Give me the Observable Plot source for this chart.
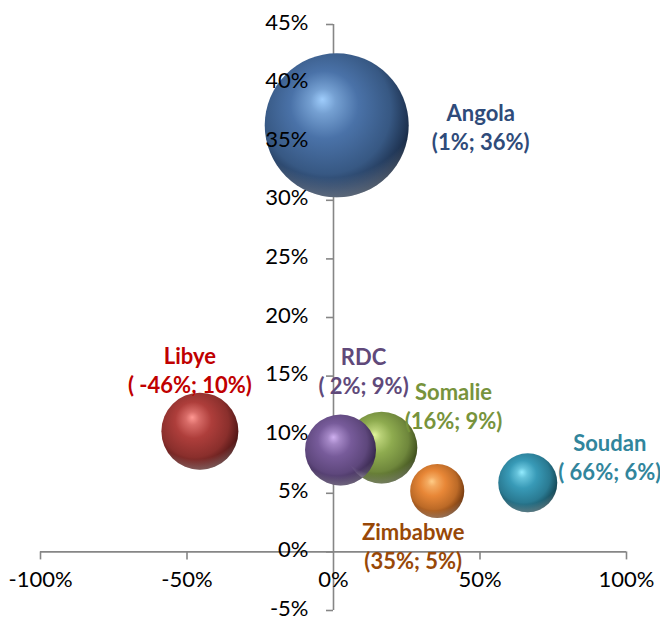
<!DOCTYPE html>
<html>
<head>
<meta charset="utf-8">
<script src="https://cdn.jsdelivr.net/npm/d3@7"></script>
<script src="https://cdn.jsdelivr.net/npm/@observablehq/plot@0.6"></script>
<style>
  html, body { margin: 0; padding: 0; background: #ffffff; }
  #chart svg { display: block; }
</style>
</head>
<body>
<div id="chart"></div>
<script>
// Countries, their growth (x, %) and share (y, %), and bubble size
const countries = ["Angola", "Libye", "RDC", "Somalie", "Zimbabwe", "Soudan"];
const growth = [1.1, -45.6, 2.4, 16.4, 35.4, 66.3];
const share = [36.4, 10.3, 8.7, 8.9, 5.2, 5.9];
const bubbleSize = [100, 28.6, 24.3, 24.7, 14.1, 16.8];
const pointLabels = ["(1%; 36%)", "( -46%; 10%)", "( 2%; 9%)", "(16%; 9%)", "(35%; 5%)", "( 66%; 6%)"];

// Axis ticks
const xTicks = [-100, -50, 0, 50, 100];
const yTicks = [-5, 0, 5, 10, 15, 20, 25, 30, 35, 40, 45];

// Sphere shading per country: highlight, body, shadow; and label colour
const palette = {
  Angola:   {light: "#9fcdfc", base: "#4a72a8", dark: "#0c1a2e", text: "#2f4b7a"},
  Libye:    {light: "#ff9893", base: "#ae3e3b", dark: "#360b0a", text: "#c00000"},
  RDC:      {light: "#cfb0f0", base: "#775b9a", dark: "#241836", text: "#60497a"},
  Somalie:  {light: "#e2f59c", base: "#8eab4f", dark: "#28340e", text: "#77933c"},
  Zimbabwe: {light: "#ffcd88", base: "#e88737", dark: "#552503", text: "#984807"},
  Soudan:   {light: "#94ecff", base: "#389ab7", dark: "#0a303b", text: "#31859c"}
};

// Label placement relative to each bubble centre (pixels)
const labelOffset = {
  Angola:   {dx: 144, dy: 1},
  Libye:    {dx: -10, dy: -62},
  RDC:      {dx: 23, dy: -80},
  Somalie:  {dx: 72, dy: -42},
  Zimbabwe: {dx: -24, dy: 54},
  Soudan:   {dx: 82, dy: -27}
};

const data = countries.map((name, i) => ({
  name, x: growth[i], y: share[i], size: bubbleSize[i], label: pointLabels[i]
}));

const pct = d => `${d}%`;
const axisColor = "#868686";
const font = "Lato, 'Open Sans', sans-serif";

const plot = Plot.plot({
  width: 660,
  height: 619,
  marginLeft: 40,
  marginRight: 34,
  marginTop: 24,
  marginBottom: 9,
  x: {domain: [-100, 100], axis: null},
  y: {domain: [-5, 45], axis: null},
  r: {domain: [0, 100], range: [0, 72]},
  style: {fontFamily: font, background: "#ffffff", overflow: "visible"},
  marks: [
    // horizontal axis through y = 0
    Plot.ruleY([0], {stroke: axisColor, strokeWidth: 1.6}),
    Plot.ruleX(xTicks.filter(d => d !== 0), {x: d => d, y1: 0, y2: 0, insetBottom: -8, stroke: axisColor, strokeWidth: 1.6}),
    // vertical axis through x = 0
    Plot.ruleX([0], {stroke: axisColor, strokeWidth: 1.6}),
    Plot.ruleY(yTicks, {y: d => d, x1: 0, x2: 0, insetLeft: -7, stroke: axisColor, strokeWidth: 1.6}),
    // bubbles
    Plot.dot(data, {x: "x", y: "y", r: "size", fill: d => `url(#ball-${d.name})`, stroke: "none"}),
    Plot.dot(data, {x: "x", y: "y", r: "size", fill: "url(#ball-rim)", stroke: "none"}),
    // tick labels sit above the bubbles
    Plot.text(xTicks, {x: d => d, frameAnchor: "bottom", dy: -24, text: pct, fontSize: 22, fill: "#000"}),
    Plot.text(yTicks, {x: 0, y: d => d, dx: -25, dy: -2, textAnchor: "end", text: pct, fontSize: 22, fill: "#000"}),
    // labels
    ...data.map(d => Plot.text([d], {
      x: "x", y: "y",
      text: v => `${v.name}\n${v.label}`,
      dx: labelOffset[d.name].dx, dy: labelOffset[d.name].dy,
      lineHeight: 1.32,
      fontSize: 22, fontWeight: "bold",
      fill: palette[d.name].text
    }))
  ]
});

// Sphere gradients
const svg = d3.select(plot);
const defs = svg.insert("defs", ":first-child");
for (const name of countries) {
  const p = palette[name];
  const g = defs.append("radialGradient")
    .attr("id", `ball-${name}`)
    .attr("cx", 0.44).attr("cy", 0.42).attr("r", 0.62)
    .attr("fx", 0.4).attr("fy", 0.32);
  const stops = [
    [0, p.light],
    [0.14, d3.interpolateRgb(p.light, p.base)(0.5)],
    [0.38, p.base],
    [0.72, d3.interpolateRgb(p.base, p.dark)(0.3)],
    [0.9, d3.interpolateRgb(p.base, p.dark)(0.7)],
    [1, p.dark]
  ];
  for (const [o, c] of stops) g.append("stop").attr("offset", o).attr("stop-color", c);
}
const rim = defs.append("radialGradient")
  .attr("id", "ball-rim")
  .attr("cx", 0.45).attr("cy", 0.2).attr("r", 0.85);
rim.append("stop").attr("offset", 0.78).attr("stop-color", "#ffffff").attr("stop-opacity", 0);
rim.append("stop").attr("offset", 1).attr("stop-color", "#ffffff").attr("stop-opacity", 0.4);

document.getElementById("chart").appendChild(plot);
</script>
</body>
</html>
